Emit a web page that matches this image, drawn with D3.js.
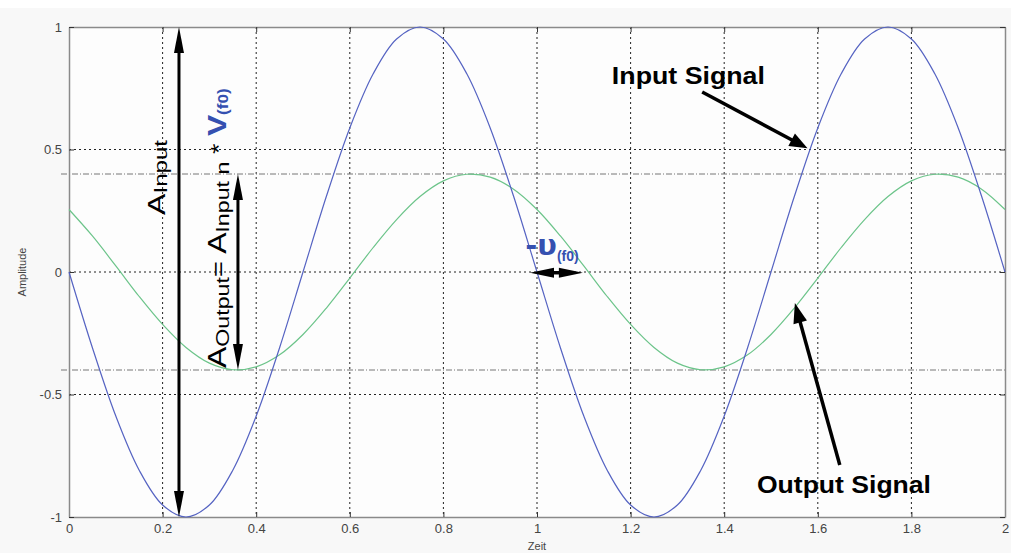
<!DOCTYPE html>
<html><head><meta charset="utf-8">
<script src="https://cdn.jsdelivr.net/npm/d3@7"></script>
<style>body{margin:0;background:#fff;}svg{display:block;}</style>
</head><body>
<svg id="c" width="1011" height="553"></svg>
<script>
// ---- data ----
const timeValues = [0,0.05,0.1,0.15,0.2,0.25,0.3,0.35,0.4,0.45,0.5,0.55,0.6,0.65,0.7,0.75,0.8,0.85,0.9,0.95,1,
  1.05,1.1,1.15,1.2,1.25,1.3,1.35,1.4,1.45,1.5,1.55,1.6,1.65,1.7,1.75,1.8,1.85,1.9,1.95,2];
const inputSignal = [0,-0.309,-0.588,-0.809,-0.951,-1,-0.951,-0.809,-0.588,-0.309,0,0.309,0.588,0.809,0.951,1,0.951,0.809,0.588,0.309,0,
  -0.309,-0.588,-0.809,-0.951,-1,-0.951,-0.809,-0.588,-0.309,0,0.309,0.588,0.809,0.951,1,0.951,0.809,0.588,0.309,0];
const outputSignal = [0.255,0.147,0.025,-0.100,-0.214,-0.308,-0.372,-0.399,-0.387,-0.338,-0.255,-0.147,-0.025,0.100,0.214,0.308,0.372,0.399,0.387,0.338,0.255,
  0.147,0.025,-0.100,-0.214,-0.308,-0.372,-0.399,-0.387,-0.338,-0.255,-0.147,-0.025,0.100,0.214,0.308,0.372,0.399,0.387,0.338,0.255];
const xTicks = [0,0.2,0.4,0.6,0.8,1,1.2,1.4,1.6,1.8,2];
const xTickLabels = ["0","0.2","0.4","0.6","0.8","1","1.2","1.4","1.6","1.8","2"];
const yTicks = [-1,-0.5,0,0.5,1];
const yTickLabels = ["-1","-0.5","0","0.5","1"];
const refLevels = [0.4,-0.4];
const xLabel = "Zeit";
const yLabel = "Amplitude";

// ---- layout ----
const W = 1011, H = 553;
const M = {left:69, right:1005, top:27, bottom:517};
const svg = d3.select("#c");
const x = d3.scaleLinear().domain([0,2]).range([M.left, M.right]);
const y = d3.scaleLinear().domain([-1,1]).range([M.bottom, M.top]);
const tickFont = "'Liberation Sans Narrow','Liberation Sans',Arial,sans-serif";
const textFont = "'Liberation Sans',Arial,sans-serif";
const blueText = "#3550b0";

svg.append("rect").attr("x",0).attr("y",8).attr("width",W).attr("height",H-8).attr("fill","#f8f8f8");
svg.append("rect").attr("x",M.left).attr("y",M.top).attr("width",M.right-M.left).attr("height",M.bottom-M.top).attr("fill","#fdfdfd");

// grid
const g = svg.append("g");
g.selectAll("line.vg").data(xTicks.slice(1,-1)).join("line")
  .attr("x1",d=>x(d)).attr("x2",d=>x(d)).attr("y1",M.top).attr("y2",M.bottom)
  .attr("stroke","#222").attr("stroke-width",1).attr("stroke-dasharray","2,3");
g.selectAll("line.hg").data(yTicks.slice(1,-1)).join("line")
  .attr("x1",M.left).attr("x2",M.right).attr("y1",d=>y(d)).attr("y2",d=>y(d))
  .attr("stroke","#222").attr("stroke-width",1).attr("stroke-dasharray","2,3");
g.selectAll("line.ref").data(refLevels).join("line")
  .attr("x1",M.left-8).attr("x2",M.right).attr("y1",d=>y(d)).attr("y2",d=>y(d))
  .attr("stroke","#777").attr("stroke-width",1).attr("stroke-dasharray","6,2,1,2");

// axes
const xa = svg.append("g").attr("transform",`translate(0,${M.bottom})`)
  .call(d3.axisBottom(x).tickValues(xTicks).tickFormat((d,i)=>xTickLabels[i]).tickSizeInner(-5).tickSizeOuter(0).tickPadding(7));
const xt = svg.append("g").attr("transform",`translate(0,${M.top})`)
  .call(d3.axisTop(x).tickValues(xTicks).tickFormat("").tickSizeInner(-5).tickSizeOuter(0));
const ya = svg.append("g").attr("transform",`translate(${M.left},0)`)
  .call(d3.axisLeft(y).tickValues(yTicks).tickFormat((d,i)=>yTickLabels[i]).tickSizeInner(-5).tickSizeOuter(0).tickPadding(7));
const yr = svg.append("g").attr("transform",`translate(${M.right},0)`)
  .call(d3.axisRight(y).tickValues(yTicks).tickFormat("").tickSizeInner(-5).tickSizeOuter(0));
[xa,xt,ya,yr].forEach(a=>{
  a.select(".domain").attr("stroke","#8a8a8a").attr("stroke-width",1.5);
  a.selectAll(".tick line").attr("stroke","#333");
  a.selectAll("text").attr("font-family",tickFont).attr("font-size",13).attr("fill","#444");
});

svg.append("text").attr("x",(M.left+M.right)/2).attr("y",550).attr("text-anchor","middle")
  .attr("font-family",tickFont).attr("font-size",11).attr("fill","#444").text(xLabel);
svg.append("text").attr("transform",`translate(26,${y(0)}) rotate(-90)`).attr("text-anchor","middle")
  .attr("font-family",tickFont).attr("font-size",11).attr("fill","#444").text(yLabel);

// curves
const line = d3.line().x((d,i)=>x(timeValues[i])).y(d=>y(d)).curve(d3.curveCatmullRom);
svg.append("path").datum(outputSignal).attr("d",line).attr("fill","none").attr("stroke","#6cc48a").attr("stroke-width",1.2);
svg.append("path").datum(inputSignal).attr("d",line).attr("fill","none").attr("stroke","#5563c2").attr("stroke-width",1.2);

// ---- annotations ----
function arrow(p1, p2, both, L, Wd, sw){
  const dx=p2[0]-p1[0], dy=p2[1]-p1[1], len=Math.hypot(dx,dy), ux=dx/len, uy=dy/len, nx=-uy, ny=ux;
  const a = both ? [p1[0]+ux*L*0.8, p1[1]+uy*L*0.8] : p1;
  const b = [p2[0]-ux*L*0.8, p2[1]-uy*L*0.8];
  svg.append("line").attr("x1",a[0]).attr("y1",a[1]).attr("x2",b[0]).attr("y2",b[1])
    .attr("stroke","#000").attr("stroke-width",sw);
  const head=(tip,sx,sy)=>{
    const bx=tip[0]-sx*L, by=tip[1]-sy*L;
    svg.append("polygon").attr("points",
      `${tip[0]},${tip[1]} ${bx+nx*Wd/2},${by+ny*Wd/2} ${bx-nx*Wd/2},${by-ny*Wd/2}`).attr("fill","#000");
  };
  head(p2,ux,uy);
  if(both) head(p1,-ux,-uy);
}
arrow([x(0.235),y(1)],[x(0.235),y(-1)],true,26,10,3);
arrow([x(0.361),y(0.4)],[x(0.361),y(-0.4)],true,26,10,3);
arrow([x(0.985),y(-0.003)],[x(1.098),y(-0.003)],true,24,10,3.5);
arrow([x(1.353),y(0.735)],[x(1.578),y(0.505)],false,18,14,3.5);
arrow([x(1.647),y(-0.788)],[x(1.551),y(-0.127)],false,20,14,3.5);

// rotated formula texts
function rotText(parts, px, py, target){
  const t = svg.append("text").attr("font-family",textFont).attr("fill","#000");
  parts.forEach(p=>{
    const s=t.append("tspan").attr("font-size",p.size).attr("dy",p.dy||0).text(p.txt);
    if(p.fill) s.attr("fill",p.fill);
    if(p.bold) s.attr("font-weight","bold");
  });
  const w = t.node().getBBox().width;
  t.attr("transform",`translate(${px},${py}) rotate(-90) scale(${target/w},1)`);
}
rotText([{txt:"A",size:24},{txt:"Input",size:18,dy:2}], x(0.205), y(0.233), 75);
rotText([
  {txt:"A",size:26},{txt:"Output",size:19,dy:3},{txt:"= ",size:22,dy:-3},
  {txt:"A",size:26},{txt:"Input n",size:19,dy:3},{txt:" * ",size:22,dy:-3},
  {txt:"V",size:26,bold:true,fill:blueText},{txt:"(f0)",size:14,bold:true,fill:blueText,dy:2}
], x(0.335), y(-0.392), 280);

const ph = svg.append("text").attr("x",x(0.975)).attr("y",y(0.068)).attr("font-family","'DejaVu Sans',sans-serif")
  .attr("font-weight","bold").attr("fill",blueText);
ph.append("tspan").attr("font-size",29).text("-υ");
ph.append("tspan").attr("font-family",textFont).attr("font-size",14).attr("dy",6).text("(f0)");

svg.append("text").attr("x",x(1.160)).attr("y",y(0.767)).attr("font-family",textFont)
  .attr("font-weight","bold").attr("font-size",24).attr("textLength",153).attr("lengthAdjust","spacingAndGlyphs").text("Input Signal");
svg.append("text").attr("x",x(1.470)).attr("y",y(-0.902)).attr("font-family",textFont)
  .attr("font-weight","bold").attr("font-size",24).attr("textLength",174).attr("lengthAdjust","spacingAndGlyphs").text("Output Signal");
</script>
</body></html>
